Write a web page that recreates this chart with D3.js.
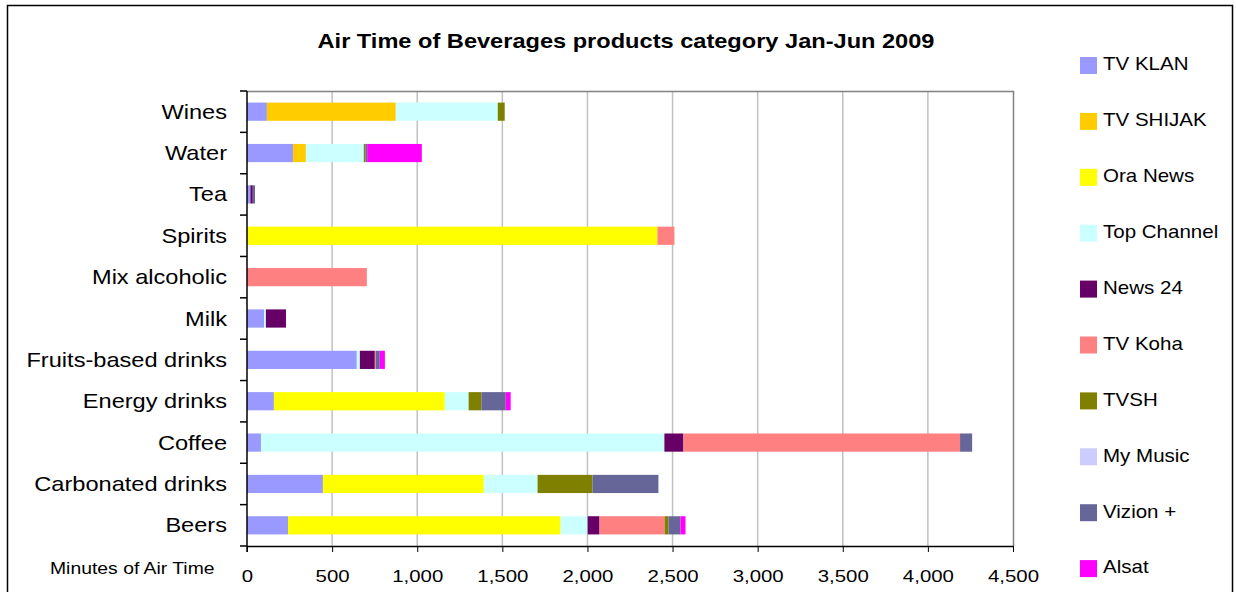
<!DOCTYPE html>
<html>
<head>
<meta charset="utf-8">
<script src="https://cdn.jsdelivr.net/npm/d3@7"></script>
<style>
	body { margin: 0; background: #fff; }
	svg text { font-family: "Liberation Sans", Arial, sans-serif; fill: #000; }
</style>
</head>
<body>
<div id="graphic"></div>
<script>
// categories, drawn bottom to top like the original
var CATEGORIES = ["Beers","Carbonated drinks","Coffee","Energy drinks","Fruits-based drinks","Milk","Mix alcoholic","Spirits","Tea","Water","Wines"]
var CHANNELS = ["TV KLAN","TV SHIJAK","Ora News","Top Channel","News 24","TV Koha","TVSH","My Music","Vizion +","Alsat"]
var COLORS = ["#9999ff","#ffcc00","#ffff00","#ccffff","#660066","#ff8080","#808000","#ccccff","#666699","#ff00ff"]

// minutes per channel, same order as CATEGORIES
var tvKlan      = [241, 446,   82, 158, 645, 100,   0,    0, 20, 270, 117]
var tvShijak    = [  0,   0,    0,   0,   0,   0,   0,    0,  0,  76, 757]
var oraNews     = [1601, 945,   0, 1004,  0,   0,   0, 2411,  0,   0,   0]
var topChannel  = [159, 316, 2370, 140,  18,  11,   0,    0,  0, 340, 599]
var news24      = [ 70,   0,  112,   0,  88, 118,   0,    0, 14,   0,   0]
var tvKoha      = [382,   0, 1625,   0,   6,   0, 704,  100,  0,   0,   0]
var tvsh        = [ 23, 323,    0,  75,   0,   0,   0,    0,  0,  10,  41]
var myMusic     = [  0,   0,    0,   0,   0,   0,   0,    0,  0,   0,   0]
var vizion      = [ 70, 387,   71, 143,  23,   0,   0,    0, 13,  10,   0]
var alsat       = [ 30,   0,    0,  29,  30,   0,   0,    0,  0, 321,   0]

var X_TICKS = [0,500,1000,1500,2000,2500,3000,3500,4000,4500]

// the original's text is a bit wide, stretch it horizontally
function stretched(sel, x, y, sx){
	return sel.attr("x", 0).attr("y", 0)
		.attr("transform", "translate(" + x + "," + y + ") scale(" + sx + ",1)")
}

function drawChart(){
	var width = 1236, height = 592
	var plot = {left: 247, right: 1013, top: 91, bottom: 546}

	var series = [tvKlan, tvShijak, oraNews, topChannel, news24, tvKoha, tvsh, myMusic, vizion, alsat]
	var rows = CATEGORIES.map(function(c, i){
		var row = {category: c}
		CHANNELS.forEach(function(ch, j){ row[ch] = series[j][i] })
		return row
	})
	var stacked = d3.stack().keys(CHANNELS)(rows)

	var x = d3.scaleLinear().domain([0, 4500]).range([plot.left, plot.right])
	var y = d3.scaleBand().domain(CATEGORIES.slice().reverse()).range([plot.top, plot.bottom]).paddingInner(0.56).paddingOuter(0.28)
	var color = d3.scaleOrdinal().domain(CHANNELS).range(COLORS)

	var svg = d3.select("#graphic").append("svg")
		.attr("width", width)
		.attr("height", height)

	// outer frame
	svg.append("rect")
		.attr("x", 7.5).attr("y", 5.5)
		.attr("width", 1225).attr("height", 600)
		.attr("fill", "none").attr("stroke", "#000").attr("stroke-width", 1.5)

	stretched(svg.append("text"), 626, 48, 1.18)
		.attr("text-anchor", "middle")
		.attr("font-size", 20).attr("font-weight", "bold")
		.text("Air Time of Beverages products category Jan-Jun 2009")

	// grid
	svg.append("g").selectAll("line")
		.data(X_TICKS.slice(1, -1))
		.enter().append("line")
		.attr("x1", function(d){ return x(d) }).attr("x2", function(d){ return x(d) })
		.attr("y1", plot.top).attr("y2", plot.bottom)
		.attr("stroke", "#c0c0c0").attr("stroke-width", 1.5)

	// plot border top/right
	svg.append("path")
		.attr("d", "M" + plot.left + "," + (plot.top + 0.5) + "H" + (plot.right + 0.5) + "V" + plot.bottom)
		.attr("fill", "none").attr("stroke", "#808080").attr("stroke-width", 1.5)

	svg.append("g").selectAll("g")
		.data(stacked)
		.enter().append("g")
		.attr("fill", function(d){ return color(d.key) })
		.selectAll("rect")
		.data(function(d){ return d })
		.enter().append("rect")
		.attr("x", function(d){ return x(d[0]) })
		.attr("width", function(d){ return x(d[1]) - x(d[0]) })
		.attr("y", function(d){ return y(d.data.category) })
		.attr("height", y.bandwidth())

	// x axis
	var xAxis = svg.append("g")
		.attr("transform", "translate(0," + plot.bottom + ")")
		.call(d3.axisBottom(x).tickValues(X_TICKS).tickSize(6).tickSizeOuter(0).tickFormat(d3.format(",")))
	xAxis.select(".domain").attr("stroke", "#000").attr("stroke-width", 1.5)
	xAxis.selectAll(".tick line").attr("stroke", "#000")
	xAxis.selectAll(".tick text")
		.attr("font-size", 17).attr("dy", 0)
		.call(stretched, 0, 36, 1.2)

	// y axis: ticks at category boundaries
	var boundaries = d3.range(CATEGORIES.length + 1).map(function(i){ return plot.top + i * (plot.bottom - plot.top) / CATEGORIES.length })
	svg.append("g").selectAll("line")
		.data(boundaries)
		.enter().append("line")
		.attr("x1", plot.left - 7).attr("x2", plot.left)
		.attr("y1", function(d){ return d }).attr("y2", function(d){ return d })
		.attr("stroke", "#000").attr("stroke-width", 1.5)
	svg.append("line")
		.attr("x1", plot.left).attr("x2", plot.left)
		.attr("y1", plot.top).attr("y2", plot.bottom + 6)
		.attr("stroke", "#000").attr("stroke-width", 1.5)

	svg.append("g").selectAll("text")
		.data(CATEGORIES)
		.enter().append("text")
		.each(function(d){ stretched(d3.select(this), 227, y(d) + y.bandwidth() / 2, 1.18) })
		.attr("dy", "0.35em")
		.attr("text-anchor", "end")
		.attr("font-size", 20)
		.text(function(d){ return d })

	stretched(svg.append("text"), 50, 574, 1.21)
		.attr("font-size", 16)
		.text("Minutes of Air Time")

	// legend
	var legend = svg.append("g").selectAll("g")
		.data(CHANNELS)
		.enter().append("g")
		.attr("transform", function(d, i){ return "translate(1080," + (57 + i * 55.9) + ")" })
	legend.append("rect")
		.attr("y", 0).attr("width", 17).attr("height", 17)
		.attr("fill", function(d){ return color(d) })
	legend.append("text")
		.call(stretched, 23, 7, 1.14)
		.attr("dy", "0.35em")
		.attr("font-size", 18)
		.text(function(d){ return d })
}

drawChart()
</script>
</body>
</html>
